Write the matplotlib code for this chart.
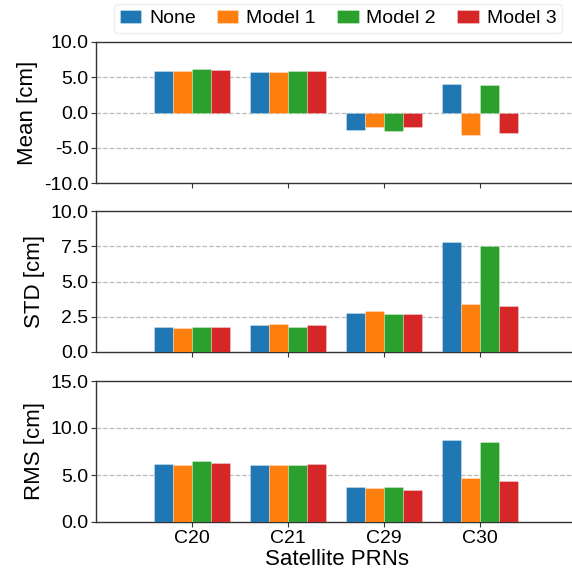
import matplotlib.pyplot as plt
import numpy as np

plt.rcParams['font.family'] = ['Liberation Sans', 'DejaVu Sans']

prns = ['C20', 'C21', 'C29', 'C30']
models = ['None', 'Model 1', 'Model 2', 'Model 3']
colors = ['#1f77b4', '#ff7f0e', '#2ca02c', '#d62728']

# rows: None, Model 1, Model 2, Model 3 ; cols: C20, C21, C29, C30
mean_vals = [[5.94, 5.75, -2.45, 4.00],
             [5.85, 5.75, -2.12, -3.25],
             [6.23, 5.85, -2.60, 3.96],
             [6.08, 5.85, -2.08, -2.88]]
std_vals = [[1.79, 1.88, 2.76, 7.79],
            [1.71, 1.98, 2.88, 3.38],
            [1.76, 1.79, 2.71, 7.55],
            [1.74, 1.88, 2.71, 3.24]]
rms_vals = [[6.17, 6.03, 3.69, 8.69],
            [6.06, 6.06, 3.58, 4.68],
            [6.45, 6.06, 3.76, 8.48],
            [6.31, 6.13, 3.44, 4.33]]

panels = [
    ('Mean [cm]', mean_vals, (-10, 10), [-10, -5, 0, 5, 10]),
    ('STD [cm]', std_vals, (0, 10), [0, 2.5, 5, 7.5, 10]),
    ('RMS [cm]', rms_vals, (0, 15), [0, 5, 10, 15]),
]

W, H = 572, 574
fig = plt.figure(figsize=(W / 100, H / 100), dpi=100)
left = 96 / W
width = 482 / W          # right spine falls just outside the picture
tops = [42, 211, 381]
h = 141

x = np.arange(len(prns))
bw = 0.2
axes = []
for k, (label, vals, ylim, yticks) in enumerate(panels):
    y0 = 1 - (tops[k] + h) / H
    ax = fig.add_axes([left, y0, width, h / H])
    for i, m in enumerate(models):
        ax.bar(x + (i - 1.5) * bw, vals[i], bw, color=colors[i], label=m,
               edgecolor='#ffffff80', linewidth=0.4, zorder=3)
    ax.set_xlim(-1, 4.02)
    ax.set_ylim(*ylim)
    ax.set_yticks(yticks)
    ax.set_yticklabels(['%.1f' % t for t in yticks])
    for t in yticks[1:-1]:
        ax.axhline(t, color='#bbbbbb', linestyle='--', linewidth=0.9, zorder=1)
    ax.set_ylabel(label, fontsize=16, labelpad=4)
    ax.set_xticks(x)
    if k < 2:
        ax.set_xticklabels([])
    else:
        ax.set_xticklabels(prns)
        ax.set_xlabel('Satellite PRNs', fontsize=16, labelpad=2)
    ax.tick_params(labelsize=14, length=3.5, color='#333333', pad=2)
    for s in ax.spines.values():
        s.set_color('#333333')
        s.set_linewidth(1.0)
    axes.append(ax)

handles, labels = axes[0].get_legend_handles_labels()
fig.legend(handles, labels, loc='upper right', bbox_to_anchor=(562 / W, 1 - 4 / H),
           ncol=4, fontsize=14, frameon=True, framealpha=1, edgecolor='#eeeeee',
           handlelength=1.1, handleheight=0.7, handletextpad=0.4,
           columnspacing=1.1, borderpad=0.3, borderaxespad=0)

fig.savefig('out.png', dpi=100)
